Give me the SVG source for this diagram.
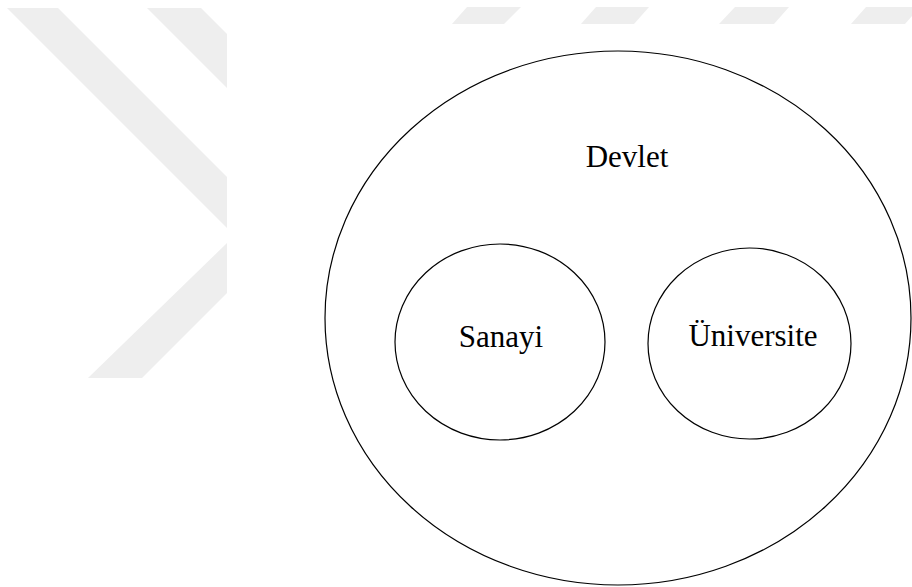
<svg xmlns="http://www.w3.org/2000/svg" width="912" height="587" viewBox="0 0 912 587">
<style>
.wm{fill:#eeeeee;stroke:none}
.node{fill:none;stroke:#000;stroke-width:1.2}
.lbl{font-family:"Liberation Serif","Times New Roman",serif;font-size:31px;fill:#000;text-anchor:middle}
</style>
<defs>
<clipPath id="wmclip"><rect x="0" y="0" width="227" height="378"/></clipPath>
</defs>
<rect width="912" height="587" fill="#fff"/>
<g id="watermark">
<g clip-path="url(#wmclip)">
<polygon class="wm" points="7,8 58,8 280,230 229,230"/>
<polygon class="wm" points="147,8 201,8 330,137 276,137"/>
<polygon class="wm" points="227,243 277,243 142,378 88,378"/>
<polygon class="wm" points="367,243 417,243 282,378 228,378"/>
</g>
<polygon class="wm" points="467,7 521,7 504,24 452,24"/>
<polygon class="wm" points="596,7 649,7 634,24 581,24"/>
<polygon class="wm" points="735,7 789,7 774,24 719,24"/>
<polygon class="wm" points="866,7 920,7 905,24 851,24"/>
</g>
<g id="connectors"></g>
<g id="devlet">
<ellipse class="node" cx="618" cy="318" rx="293" ry="267"/>
<text class="lbl" x="627" y="167">Devlet</text>
</g>
<g id="sanayi">
<ellipse class="node" cx="500" cy="342" rx="105" ry="98"/>
<text class="lbl" x="501" y="347">Sanayi</text>
</g>
<g id="universite">
<ellipse class="node" cx="749.5" cy="343.5" rx="101.5" ry="95.5"/>
<text class="lbl" x="753" y="346">Üniversite</text>
</g>
</svg>
